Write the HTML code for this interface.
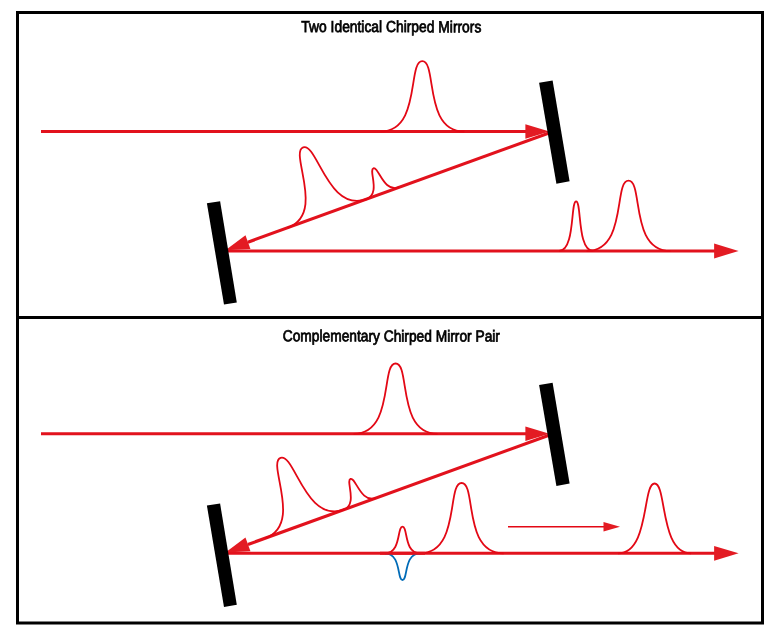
<!DOCTYPE html>
<html><head><meta charset="utf-8"><title>Chirped Mirrors</title>
<style>
html,body{margin:0;padding:0;background:#fff;}
svg{display:block}
text{font-family:"Liberation Sans",sans-serif;font-size:15.9px;fill:#000;stroke:#000;stroke-width:0.75px;vector-effect:non-scaling-stroke;text-rendering:geometricPrecision}
</style></head><body>
<svg width="780" height="635" viewBox="0 0 780 635">
<rect width="780" height="635" fill="#fff"/>
<path fill="#000" fill-rule="evenodd" d="M16,11H764V624.5H16ZM19,14V316H761V14ZM19,319V621.5H761V319Z"/>
<text transform="translate(391.35,32.1) rotate(0.05) scale(0.8708,1)" text-anchor="middle">Two Identical Chirped Mirrors</text>
<text transform="translate(391.35,341.4) rotate(0.05) scale(0.866,1)" text-anchor="middle">Complementary Chirped Mirror Pair</text>
<g transform="translate(0,0)">
<g stroke="#E2121D" stroke-width="3.1" fill="none">
<path d="M41,131.5H527"/>
<path d="M549,133.03L247.90,242.18"/>
<path d="M226,251H715"/>
</g>
<g fill="#E31B23">
<path d="M525.4,124.2V138.8L549.4,131.5Z"/>
<path d="M714.1,243.6V258.4L738.6,251Z"/>
<path transform="translate(225.4,250.2) rotate(-19.926)" d="M0,0L24,-7.3V7.3Z"/>
</g>
<g stroke="#E30815" stroke-width="1.8" fill="none">
<path transform="translate(422.3,131.5)" d="M-42,0C-1.00,0 -15.00,-70.3 0,-70.3C15.00,-70.3 1.00,0 42,0"/>
<path transform="translate(327.1,213.47) rotate(-19.926)" d="M-42,0C-1.00,0 -15.00,-70.3 0,-70.3C15.00,-70.3 1.00,0 42,0"/>
<path transform="translate(382.5,193.39) rotate(-19.926)" d="M-17.5,0C-1.20,0 -5.50,-26.7 0,-26.7C5.50,-26.7 1.20,0 17.5,0"/>
<path transform="translate(576.1,251)" d="M-17,0C-1.00,0 -5.60,-49.7 0,-49.7C5.60,-49.7 1.00,0 17,0"/>
<path transform="translate(628.5,251)" d="M-42,0C-1.00,0 -15.00,-70.3 0,-70.3C15.00,-70.3 1.00,0 42,0"/>
</g>
<path fill="#000" d="M539.1,82.8L552.6,80.5L569.6,181.3L556.4,183.7Z"/>
<path fill="#000" d="M206.9,203.3L220.1,201.3L236.8,302.4L224,304.6Z"/>
</g>
<g transform="translate(0,302.3)">
<g stroke="#E2121D" stroke-width="3.1" fill="none">
<path d="M41,131.5H527"/>
<path d="M549,133.03L247.90,242.18"/>
<path d="M226,251H715"/>
</g>
<g fill="#E31B23">
<path d="M525.4,124.2V138.8L549.4,131.5Z"/>
<path d="M714.1,243.6V258.4L738.6,251Z"/>
<path transform="translate(225.4,250.2) rotate(-19.926)" d="M0,0L24,-7.3V7.3Z"/>
</g>
<g stroke="#E30815" stroke-width="1.8" fill="none">
<path transform="translate(395.6,131.5)" d="M-42,0C-1.00,0 -15.00,-70.3 0,-70.3C15.00,-70.3 1.00,0 42,0"/>
<path transform="translate(304.5,221.66) rotate(-19.926)" d="M-42,0C-1.00,0 -15.00,-70.3 0,-70.3C15.00,-70.3 1.00,0 42,0"/>
<path transform="translate(359.6,201.69) rotate(-19.926)" d="M-17.5,0C-1.20,0 -5.50,-26.7 0,-26.7C5.50,-26.7 1.20,0 17.5,0"/>
<path transform="translate(402.5,251)" d="M-17.5,0C-1.20,0 -5.50,-26.7 0,-26.7C5.50,-26.7 1.20,0 17.5,0"/>
<path transform="translate(402.5,251) scale(1,-1)" stroke="#006BB7" d="M-17.5,0C-1.20,0 -5.50,-26.7 0,-26.7C5.50,-26.7 1.20,0 17.5,0"/>
<path transform="translate(461.6,251)" d="M-42,0C-1.00,0 -15.00,-70.3 0,-70.3C15.00,-70.3 1.00,0 42,0"/>
<path transform="translate(654.6,251)" d="M-36.5,0C-5.00,0 -12.30,-69.8 0,-69.8C12.30,-69.8 5.00,0 36.5,0"/>
<path stroke-width="1.65" d="M508,224.45H605"/>
</g>
<path fill="#E31B23" d="M603.5,219.65V229.25L620,224.45Z"/>
<path stroke="#E2121D" stroke-width="3.1" d="M380,251H425"/>
<path fill="#000" d="M539.1,82.8L552.6,80.5L569.6,181.3L556.4,183.7Z"/>
<path fill="#000" d="M206.9,203.3L220.1,201.3L236.8,302.4L224,304.6Z"/>
</g>
</svg>
</body></html>
